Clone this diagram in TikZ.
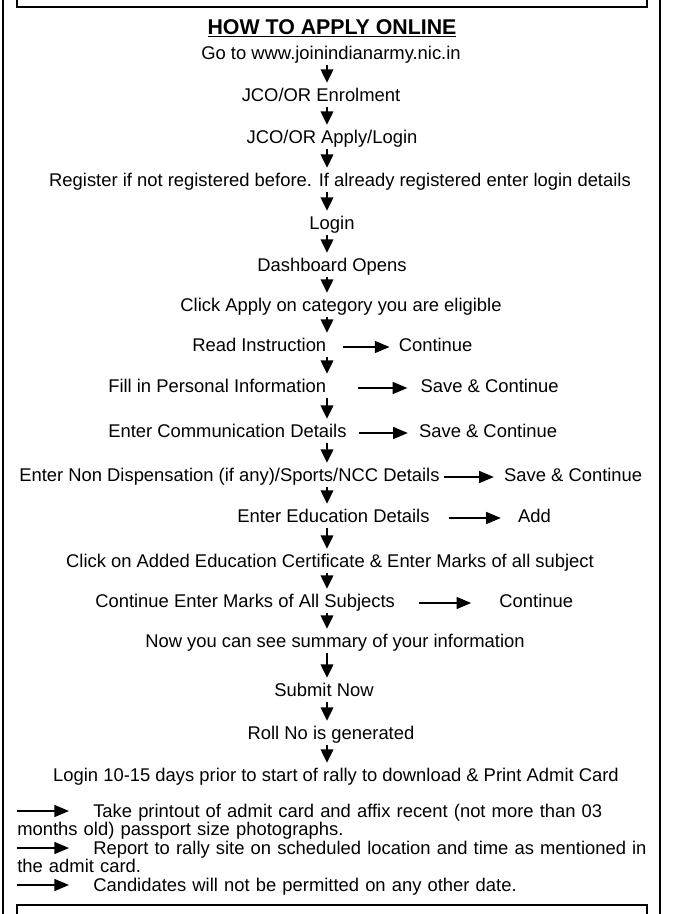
\documentclass[tikz,border=0pt]{standalone}
\usepackage{fontspec}
\setmainfont{Liberation Sans}
\usetikzlibrary{arrows.meta, positioning}

\begin{document}
\begin{tikzpicture}[x=0.75pt, y=-0.75pt,
    txt/.style={inner sep=0pt, text height=10pt, text depth=3pt,
                font=\fontsize{13.8}{15}\selectfont},
    para/.style={inner sep=0pt, text width=471pt, align=left,
                 font=\fontsize{13.8}{13.875}\selectfont},
    arr/.style={-{Triangle[length=10pt, width=9.5pt]}, line width=1.1pt,
                shorten <=1pt, shorten >=4pt},
    harr/.style={-{Triangle[length=11pt, width=9pt]}, line width=1.1pt},
    frame/.style={line width=1.7pt}
  ]
  \useasboundingbox (0,0) rectangle (677,914);

  % outer frame and the boxes cut at top and bottom
  \draw[frame] (3,0) -- (3,914);
  \draw[frame] (660,0) -- (660,914);
  \draw[frame] (17,0) -- (17,7) -- (647,7) -- (647,0);
  \draw[frame] (17,914) -- (17,905) -- (647,905) -- (647,914);

  \node[font=\fontsize{16}{18}\selectfont\bfseries] (title) at (332,28) {\underline{HOW TO APPLY ONLINE}};
  \coordinate (col) at (327,0);

  \node[txt] (go) at (331,55) {Go to www.joinindianarmy.nic.in};
  \node[txt] (enrol) at (321,97) {JCO/OR Enrolment};
  \node[txt] (apply) at (332,139) {JCO/OR Apply/Login};
  \node[txt] (reg) at (340,182) {Register if not registered before. If already registered enter login details};
  \node[txt] (login) at (332,225) {Login};
  \node[txt] (dash) at (332,267) {Dashboard Opens};
  \node[txt] (cat) at (341,307) {Click Apply on category you are eligible};

  \node[txt, anchor=west] (read) at (192,347) {Read Instruction};
  \node[txt, right=54pt of read] (readc) {Continue};
  \node[txt, anchor=west] (fill) at (108,388) {Fill in Personal Information};
  \node[txt, right=70.5pt of fill] (fillc) {Save \& Continue};
  \node[txt, anchor=west] (comm) at (108,433) {Enter Communication Details};
  \node[txt, right=54pt of comm] (commc) {Save \& Continue};
  \node[txt, anchor=west] (ncc) at (19,477) {Enter Non Dispensation (if any)/Sports/NCC Details};
  \node[txt, right=48pt of ncc] (nccc) {Save \& Continue};
  \node[txt, anchor=west] (edu) at (237,518) {Enter Education Details};
  \node[txt, right=66pt of edu] (add) {Add};

  \node[txt] (added) at (330,563) {Click on Added Education Certificate \& Enter Marks of all subject};
  \node[txt, anchor=west] (marks) at (95,603) {Continue Enter Marks of All Subjects};
  \node[txt, right=78pt of marks] (marksc) {Continue};
  \node[txt] (summ) at (335,643) {Now you can see summary of your information};
  \node[txt] (submit) at (324,692) {Submit Now};
  \node[txt] (roll) at (331,735) {Roll No is generated};
  \node[txt] (print) at (336,777) {Login 10-15 days prior to start of rally to download \& Print Admit Card};

  \node[para, anchor=base west] (take) at (17,817) {\hspace*{57pt}\makebox[413.25pt][s]{Take printout of admit card and affix recent (not more than 03}\\months old) passport size photographs.};
  \node[para, anchor=base west] (report) at (17,854) {\hspace*{57pt}\makebox[413.25pt][s]{Report to rally site on scheduled location and time as mentioned in}\\the admit card.};
  \node[para, anchor=base west] (cand) at (17,891) {\hspace*{57pt}Candidates will not be permitted on any other date.};

  \draw[arr] (go.south -| col) -- (enrol.north -| col);
  \draw[arr] (enrol.south -| col) -- (apply.north -| col);
  \draw[arr] (apply.south -| col) -- (reg.north -| col);
  \draw[arr] (reg.south -| col) -- (login.north -| col);
  \draw[arr] (login.south -| col) -- (dash.north -| col);
  \draw[arr] (dash.south -| col) -- (cat.north -| col);
  \draw[arr] (cat.south -| col) -- (read.north -| col);
  \draw[arr] (read.south -| col) -- (fill.north -| col);
  \draw[arr] (fill.south -| col) -- (comm.north -| col);
  \draw[arr] (comm.south -| col) -- (ncc.north -| col);
  \draw[arr] (ncc.south -| col) -- (edu.north -| col);
  \draw[arr] (edu.south -| col) -- (added.north -| col);
  \draw[arr] (added.south -| col) -- (marks.north -| col);
  \draw[arr] (marks.south -| col) -- (summ.north -| col);
  \draw[arr] (summ.south -| col) -- (submit.north -| col);
  \draw[arr] (submit.south -| col) -- (roll.north -| col);
  \draw[arr] (roll.south -| col) -- (print.north -| col);

  \draw[harr] ([xshift=12pt]read.east) -- ([xshift=-6.75pt]readc.west);
  \draw[harr] ([xshift=24pt]fill.east) -- ([xshift=-9.75pt]fillc.west);
  \draw[harr] ([xshift=9pt]comm.east) -- ([xshift=-8.25pt]commc.west);
  \draw[harr] ([xshift=3pt]ncc.east) -- ([xshift=-7.5pt]nccc.west);
  \draw[harr] ([xshift=14.25pt]edu.east) -- ([xshift=-12.75pt]add.west);
  \draw[harr] ([xshift=18pt]marks.east) -- ([xshift=-21pt]marksc.west);

  \draw[harr] ([yshift=4.5pt]take.base west) -- ++(39pt,0);
  \draw[harr] ([yshift=4.5pt]report.base west) -- ++(39pt,0);
  \draw[harr] ([yshift=4.5pt]cand.base west) -- ++(39pt,0);
\end{tikzpicture}
\end{document}
